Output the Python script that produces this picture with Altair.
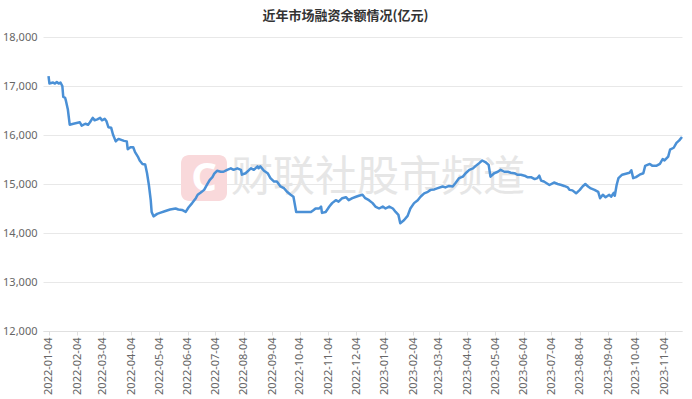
import altair as alt
import pandas as pd

TITLE = "近年市场融资余额情况(亿元)"
WATERMARK = "财联社股市频道"

# each row = one month
dates_2022 = [
    "2022-01-04","2022-01-05","2022-01-09","2022-01-11","2022-01-13","2022-01-15","2022-01-17","2022-01-19","2022-01-20","2022-01-22","2022-01-23","2022-01-25","2022-01-27","2022-01-31",
    "2022-02-07","2022-02-09","2022-02-13","2022-02-16","2022-02-18","2022-02-21","2022-02-23","2022-02-26",
    "2022-03-01","2022-03-03","2022-03-06","2022-03-08","2022-03-10","2022-03-13","2022-03-15","2022-03-18","2022-03-21","2022-03-24","2022-03-27","2022-03-30","2022-03-31",
    "2022-04-03","2022-04-06","2022-04-08","2022-04-11","2022-04-13","2022-04-16","2022-04-19","2022-04-21","2022-04-23","2022-04-25","2022-04-26","2022-04-28",
    "2022-05-02","2022-05-05","2022-05-11","2022-05-16","2022-05-22","2022-05-25","2022-05-29",
    "2022-06-02","2022-06-05","2022-06-09","2022-06-13","2022-06-15","2022-06-18","2022-06-22","2022-06-25","2022-06-28",
    "2022-07-01","2022-07-03","2022-07-06","2022-07-10","2022-07-13","2022-07-17","2022-07-21","2022-07-24","2022-07-28",
    "2022-08-01","2022-08-02","2022-08-06","2022-08-10","2022-08-12","2022-08-15","2022-08-19","2022-08-20","2022-08-22","2022-08-26","2022-08-30",
    "2022-09-02","2022-09-06","2022-09-09","2022-09-13","2022-09-17","2022-09-20","2022-09-24","2022-09-27","2022-09-30",
    "2022-10-08","2022-10-16","2022-10-19","2022-10-21","2022-10-25","2022-10-27","2022-10-28",
    "2022-11-01","2022-11-05","2022-11-08","2022-11-12","2022-11-15","2022-11-19","2022-11-23","2022-11-26","2022-11-30",
    "2022-12-04","2022-12-07","2022-12-11","2022-12-14","2022-12-18","2022-12-22","2022-12-25","2022-12-29",
]
balance_2022 = [
    17200,17050,17070,17050,17080,17050,17070,17000,16780,16760,16690,16520,16210,16230,
    16260,16190,16230,16210,16260,16350,16300,16320,
    16350,16300,16330,16280,16160,16150,16010,15870,15920,15900,15880,15870,15710,
    15750,15750,15650,15560,15480,15410,15400,15220,14980,14670,14430,14340,
    14390,14410,14450,14480,14500,14480,14470,
    14430,14520,14610,14710,14780,14820,14880,14980,15080,
    15140,15210,15270,15250,15250,15290,15320,15290,15320,
    15290,15190,15220,15290,15320,15290,15360,15320,15360,15270,15220,
    15120,15050,15050,14950,14910,14840,14780,14740,14430,
    14430,14430,14470,14500,14500,14540,14410,
    14430,14540,14610,14670,14640,14710,14730,14670,14710,
    14740,14760,14780,14710,14670,14610,14540,14500,
]

dates_2023 = [
    "2023-01-02","2023-01-05","2023-01-09","2023-01-13","2023-01-16","2023-01-19","2023-01-21","2023-01-25","2023-01-29",
    "2023-02-01","2023-02-05","2023-02-09","2023-02-12","2023-02-16","2023-02-20","2023-02-23","2023-02-27",
    "2023-03-02","2023-03-08","2023-03-11","2023-03-15","2023-03-19","2023-03-22","2023-03-26","2023-03-30",
    "2023-04-02","2023-04-06","2023-04-10","2023-04-13","2023-04-17","2023-04-20","2023-04-24","2023-04-27","2023-04-29",
    "2023-05-03","2023-05-07","2023-05-10","2023-05-14","2023-05-18","2023-05-21","2023-05-25","2023-05-28",
    "2023-06-01","2023-06-05","2023-06-08","2023-06-12","2023-06-16","2023-06-19","2023-06-21","2023-06-23","2023-06-26",
    "2023-07-02","2023-07-07","2023-07-11","2023-07-15","2023-07-18","2023-07-22","2023-07-24","2023-07-27","2023-07-31",
    "2023-08-04","2023-08-07","2023-08-10","2023-08-13","2023-08-16","2023-08-20","2023-08-24","2023-08-26","2023-08-29",
    "2023-09-01","2023-09-05","2023-09-07","2023-09-10","2023-09-11","2023-09-13","2023-09-15","2023-09-19","2023-09-23","2023-09-27","2023-09-29",
    "2023-10-01","2023-10-04","2023-10-08","2023-10-12","2023-10-14","2023-10-19","2023-10-22","2023-10-26","2023-10-30",
    "2023-11-02","2023-11-04","2023-11-08","2023-11-10","2023-11-14","2023-11-17","2023-11-20","2023-11-23",
]
balance_2023 = [
    14540,14500,14540,14500,14430,14370,14200,14260,14350,
    14500,14610,14670,14740,14810,14840,14880,14890,
    14910,14950,14930,14960,14950,15020,15120,15150,
    15220,15290,15320,15370,15430,15480,15440,15390,15150,
    15220,15250,15290,15250,15250,15230,15220,15190,
    15190,15170,15140,15140,15100,15120,15170,15070,15050,
    14980,15030,15000,14980,14960,14930,14880,14870,14810,
    14880,14950,15000,14950,14910,14880,14840,14710,14780,
    14730,14780,14740,14820,14760,14980,15120,15190,15210,15230,15280,
    15120,15140,15190,15220,15370,15410,15370,15370,15410,
    15510,15480,15560,15700,15740,15840,15890,15960,
]

tick_months = [(2022, m) for m in range(1, 13)] + [(2023, m) for m in range(1, 12)]
y_ticks = [12000, 13000, 14000, 15000, 16000, 17000, 18000]

df = pd.DataFrame({
    "date": dates_2022 + dates_2023,
    "balance": balance_2022 + balance_2023,
})

tick_values = [alt.DateTime(year=y, month=m, date=4, utc=True) for (y, m) in tick_months]

FONT = "Noto Sans"

line = alt.Chart(df).mark_line(color="#4a90d6", strokeWidth=2.5, strokeJoin="round").encode(
    x=alt.X(
        "date:T",
        scale=alt.Scale(
            type="utc",
            domain=[alt.DateTime(year=2021, month=12, date=29, utc=True),
                    alt.DateTime(year=2023, month=11, date=23, utc=True)],
        ),
        axis=alt.Axis(
            values=tick_values, format="%Y-%m-%d", labelAngle=270, title=None,
            grid=False, domainColor="#e0e0e0", tickColor="#e0e0e0", tickSize=4,
            labelColor="#666666", labelFontSize=11, labelFont=FONT, labelPadding=2,
            labelOverlap=False, labelFlush=False,
        ),
    ),
    y=alt.Y(
        "balance:Q",
        scale=alt.Scale(domain=[12000, 18000], nice=False, zero=False),
        axis=alt.Axis(
            values=y_ticks, format=",.0f", title=None, domain=False, ticks=False,
            gridColor="#e8e8e8", labelColor="#666666", labelFontSize=11,
            labelFont=FONT, labelPadding=6,
        ),
    ),
)

wm_df = pd.DataFrame({"t": [WATERMARK]})
logo = alt.Chart(wm_df).mark_rect(color="#f9d9db", cornerRadius=8).encode(
    x=alt.value(138), x2=alt.value(184), y=alt.value(118), y2=alt.value(164)
)
logo_c = alt.Chart(wm_df).mark_text(
    text="C", color="white", fontSize=40, fontWeight="bold", font=FONT,
    align="center", baseline="middle",
).encode(x=alt.value(161), y=alt.value(142))
wm_text = alt.Chart(wm_df).mark_text(
    color="#e6e6e6", fontSize=42, font="Noto Sans CJK SC",
    align="left", baseline="middle",
).encode(x=alt.value(188), y=alt.value(141), text="t:N")

chart = alt.layer(logo, logo_c, wm_text, line).properties(
    width=639,
    height=294,
    padding={"left": 43, "top": 37, "right": 10, "bottom": 68},
    autosize=alt.AutoSizeParams(type="none"),
    title=alt.TitleParams(
        TITLE, fontSize=13, fontWeight="bold", color="#333333",
        font="Noto Sans CJK SC", anchor="middle", dx=-17, offset=8,
    ),
).configure_view(stroke=None)

chart.save("out.html", embed_options={"renderer": "svg", "actions": False})
